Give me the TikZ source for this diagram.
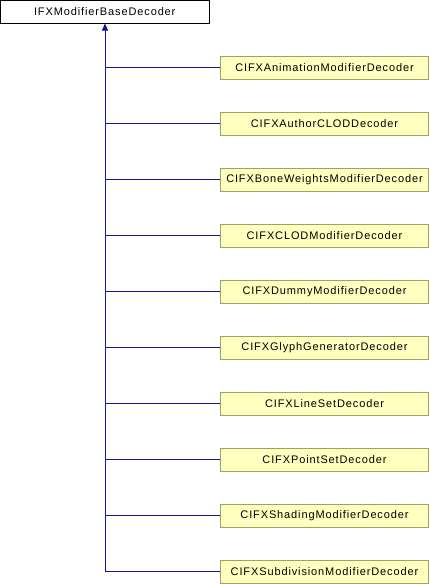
\documentclass[tikz,border=0pt]{standalone}
\usepackage{fontspec}
\setmainfont{Liberation Sans}[LetterSpace=8]
\usetikzlibrary{arrows.meta}
\definecolor{edgeblue}{RGB}{20,20,150}
\definecolor{boxfill}{RGB}{255,255,192}
\definecolor{boxline}{RGB}{160,160,96}
\begin{document}
\begin{tikzpicture}[x=1pt,y=-1pt,
  basebox/.style={draw=black,fill=white,line width=1pt,minimum width=208.5pt,minimum height=22.5pt,inner sep=0pt,font=\fontsize{11}{13}\selectfont},
  childbox/.style={draw=boxline,fill=boxfill,line width=1pt,minimum width=208pt,minimum height=23pt,inner sep=0pt,font=\fontsize{11}{13}\selectfont},
  edge/.style={draw=edgeblue,line width=1pt}]
\useasboundingbox (0,0) rectangle (430,584);
\node[basebox] (base) at (104.75,11.75) {IFXModifierBaseDecoder};
\foreach \i/\n/\t in {0/c0/CIFXAnimationModifierDecoder,
                      1/c1/CIFXAuthorCLODDecoder,
                      2/c2/CIFXBoneWeightsModifierDecoder,
                      3/c3/CIFXCLODModifierDecoder,
                      4/c4/CIFXDummyModifierDecoder,
                      5/c5/CIFXGlyphGeneratorDecoder,
                      6/c6/CIFXLineSetDecoder,
                      7/c7/CIFXPointSetDecoder,
                      8/c8/CIFXShadingModifierDecoder,
                      9/c9/CIFXSubdivisionModifierDecoder}{
  \node[childbox] (\n) at (324.5,{67.5+56*\i}) {\t};
  \coordinate (j\n) at (105,{67.5+56*\i});
  \draw[edge] (\n.west) -- (j\n);
}
\draw[edge,-{Triangle[length=7pt,width=6pt]}] (jc9) -- (base.south -| jc9);
\end{tikzpicture}
\end{document}
